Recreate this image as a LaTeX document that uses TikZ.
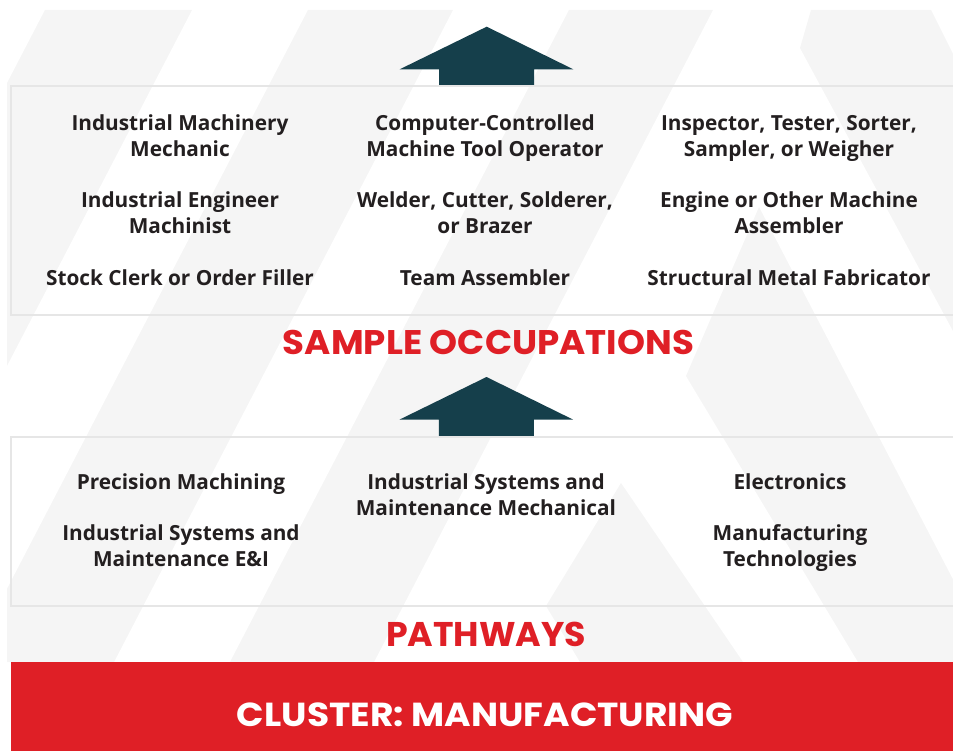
\documentclass[tikz,border=0pt]{standalone}
\usepackage{fontspec}
\usepackage{graphicx}
\setmainfont{Open Sans}
\newfontfamily\headfont{Poppins}
\definecolor{ink}{HTML}{231F20}
\definecolor{arrowteal}{HTML}{153F4B}
\definecolor{clusterred}{HTML}{DF1F26}
\definecolor{stripe}{HTML}{F5F5F5}
\definecolor{rule}{HTML}{E6E6E6}
\def\UpArrow{-- ++(86.6,42.6) -- ++(-39.3,0) -- ++(0,16.2) -- ++(-95,0) -- ++(0,-16.2) -- ++(-39.3,0) -- cycle}
\def\TopBox{(11,86) rectangle (960,315)}
\def\LowBox{(11,437) rectangle (960,606)}

\begin{document}
\begin{tikzpicture}[x=1pt,y=-1pt,
    occ/.style={font=\bfseries\fontsize{20.8}{26}\selectfont,text=ink,align=center,anchor=base,inner sep=0pt},
    head/.style={text=clusterred,anchor=base,inner sep=0pt}]
    \useasboundingbox (0,0) rectangle (953,751);
    % faint stripes behind everything
    \begin{scope}
      \clip (7,10) rectangle (953,662);
      \fill[stripe] (45,10) -- (192,10) -- (-147,662) -- (-294,662) -- cycle;
      \fill[stripe] (308,10) -- (453,10) -- (114,662) -- (-31,662) -- cycle;
      \fill[stripe] (569,10) -- (713,10) -- (374,662) -- (230,662) -- cycle;
      \fill[stripe] (811,10) -- (931,10) -- (1257,662) -- (1132,662) -- (800,48) -- cycle;
      \fill[stripe] (759,207) -- (996,662) -- (858,662) -- (686,376) -- cycle;
      \fill[stripe] (621,483) -- (743,662) -- (580,662) -- (546,606) -- cycle;
    \end{scope}
    \fill[arrowteal] (486.7,26.7) \UpArrow;
    \fill[arrowteal] (486.5,377) \UpArrow;
    \draw[rule,line width=2pt] \TopBox;
    \draw[rule,line width=2pt] \LowBox;
    % sample occupations (base = last line)
    \node[occ] (mechanic) at (180,157) {Industrial Machinery\\Mechanic};
    \node[occ] (cnc) at (485,157) {Computer-Controlled\\Machine Tool Operator};
    \node[occ] (inspector) at (789,157) {Inspector, Tester, Sorter,\\Sampler, or Weigher};
    \node[occ] (engineer) at (180,233.5) {Industrial Engineer\\Machinist};
    \node[occ] (welder) at (485,233.5) {Welder, Cutter, Solderer,\\or Brazer};
    \node[occ] (engine) at (789,233.5) {Engine or Other Machine\\Assembler};
    \node[occ] (stock) at (180,286) {Stock Clerk or Order Filler};
    \node[occ] (team) at (485,286) {Team Assembler};
    \node[occ] (structural) at (789,286) {Structural Metal Fabricator};
    \node[head] (occupations) at (488.5,354.3) {\resizebox{411pt}{24.3pt}{\headfont\bfseries SAMPLE OCCUPATIONS}};
    % pathways
    \node[occ] (precision) at (181,489) {Precision Machining};
    \node[occ] (isme) at (181,566) {Industrial Systems and\\Maintenance E\&I};
    \node[occ] (ismm) at (486,515) {Industrial Systems and\\Maintenance Mechanical};
    \node[occ] (electronics) at (790,489) {Electronics};
    \node[occ] (mfgtech) at (790,566) {Manufacturing\\Technologies};
    \node[head] (pathways) at (486,646.7) {\resizebox{200pt}{24.4pt}{\headfont\bfseries PATHWAYS}};
    % cluster band
    \fill[clusterred] (10.5,662) rectangle (953,751);
    \node[head,text=white] (cluster) at (485,726.7) {\resizebox{496pt}{23.7pt}{\headfont\bfseries CLUSTER: MANUFACTURING}};
\end{tikzpicture}
\end{document}
